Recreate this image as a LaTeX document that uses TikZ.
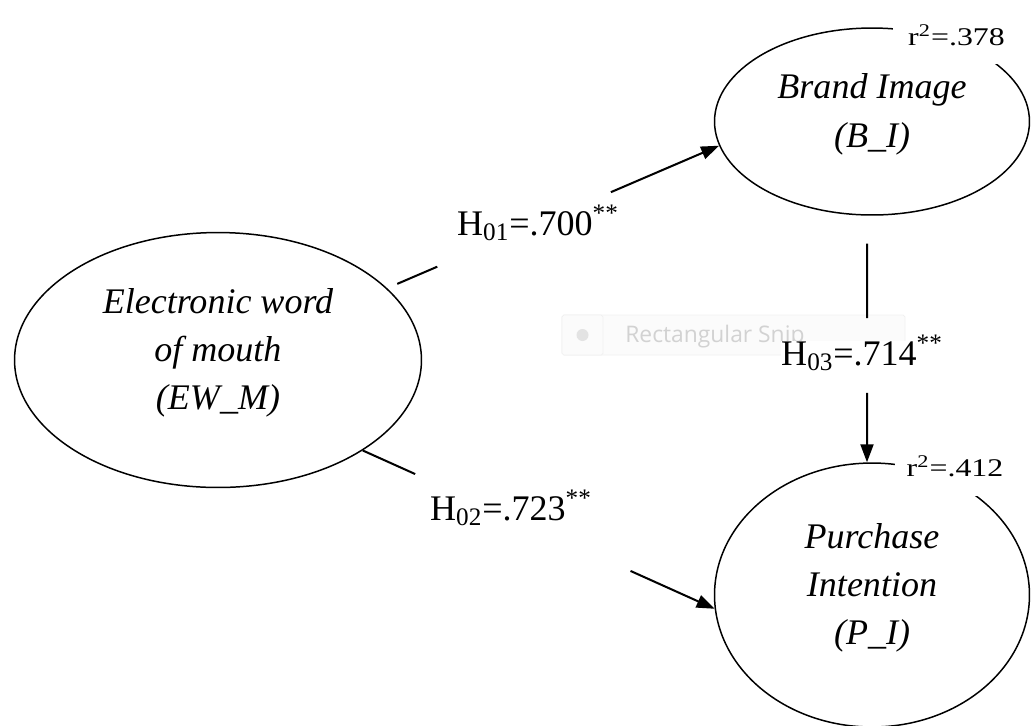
\documentclass[tikz,border=0pt]{standalone}
\usepackage{fontspec}
\setmainfont{Liberation Serif}
\newfontfamily\snipfont{Open Sans}
\usetikzlibrary{shapes}
\usetikzlibrary{calc}
\usetikzlibrary{arrows.meta}
\newcommand{\deepstrut}{\rule[-0.44cm]{0pt}{0pt}}
\tikzset{
    latent/.style = {ellipse, draw=black, line width=0.85pt, inner sep=0pt, align=center,font=\fontsize{20.5pt}{27.5pt}\selectfont\itshape},
    coef/.style = {anchor=base, inner sep=0pt, font=\fontsize{20.5pt}{24pt}\selectfont},
    rsq/.style = {fill=white, inner sep=0pt, font=\fontsize{14.5pt}{17pt}\selectfont},
    edgel/.style = {line width=1.15pt, black},
    edgea/.style = {edgel, -{Triangle[length=0.36cm,width=0.26cm]}},
    snipbox/.style = {draw=gray!12, fill=gray!3, rounded corners=1pt},
    snipnode/.style = {anchor=base west, inner sep=0pt, text=gray!35, font=\snipfont\fontsize{13pt}{15pt}\selectfont}
}
\begin{document}
\begin{tikzpicture}[x=0.02cm,y=-0.02cm]
\useasboundingbox (0,0) rectangle (1031,725);
% faded snip tool box
\draw[snipbox] (562,315) rectangle (905,355);
\draw[snipbox] (562,315) rectangle (603,355);
\fill[gray!22] (582.5,335) circle (6);
\node[snipnode] at (625,342) (snip) {Rectangular Snip};
%
\node[latent, minimum width=8.14cm, minimum height=5.1cm] at (218,360) (ewm) {Electronic word\\of mouth\\(EW\_M)\deepstrut};
\node[latent, minimum width=6.3cm, minimum height=3.74cm] at (872,121.5) (bi) {Brand Image\\(B\_I)\deepstrut};
\node[latent, minimum width=6.3cm, minimum height=5.28cm] at (872,595) (pi) {Purchase\\Intention\\(P\_I)\deepstrut};
%
\draw[edgel, shorten <=0.22cm] (ewm.23) -- ($(ewm.23)!0.151!(bi.189)$);
\draw[edgea] ($(ewm.23)!0.674!(bi.189)$) -- (bi.189);
\draw[edgel] (ewm.328) -- ($(ewm.328)!0.149!(pi.185)$);
\draw[edgea] ($(ewm.328)!0.761!(pi.185)$) -- (pi.185);
\draw[edgel, shorten <=0.56cm] ([xshift=-0.1cm]bi.south) -- ($([xshift=-0.1cm]bi.south)!0.415!([xshift=-0.1cm]pi.north)$);
\draw[edgea] ($([xshift=-0.1cm]bi.south)!0.718!([xshift=-0.1cm]pi.north)$) -- ([xshift=-0.1cm]pi.north);
%
\node[coef] at (538,235) (h1) {H\textsubscript{01}=.700\textsuperscript{**}};
\node[coef] at (511,520) (h2) {H\textsubscript{02}=.723\textsuperscript{**}};
\node[coef, fill=white, text height=0.48cm] at (862,365) (h3) {H\textsubscript{03}=.714\textsuperscript{**}};
\node[rsq, minimum width=2.54cm, minimum height=1.16cm] at (956.5,35) (r1) {\scalebox{1.25}[1]{r\textsuperscript{2}=.378}};
\node[rsq, minimum width=2.4cm, minimum height=1.2cm] at (955,466) (r2) {\scalebox{1.25}[1]{r\textsuperscript{2}=.412}};

\end{tikzpicture}
\end{document}
